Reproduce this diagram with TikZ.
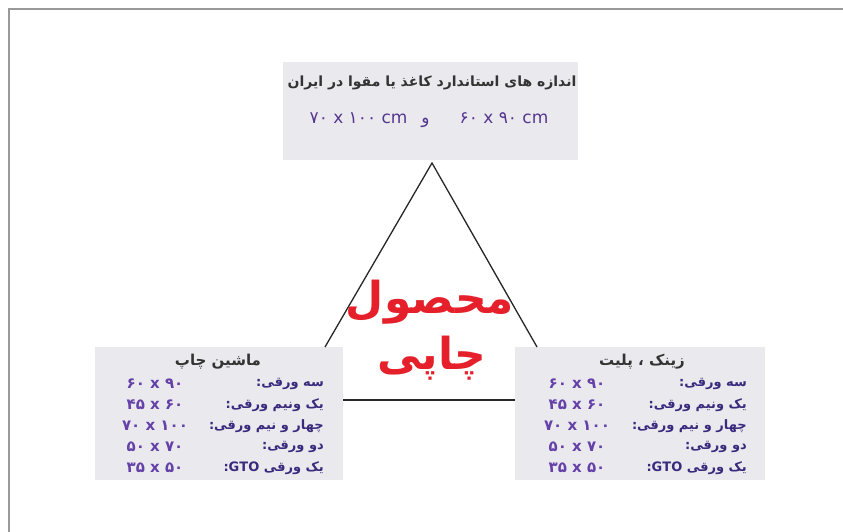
\documentclass[tikz,border=0pt]{standalone}
\usepackage{fontspec}
\setmainfont{DejaVu Sans}
\newfontfamily\arabicfont[Script=Arabic]{DejaVu Sans}
\TeXXeTstate=1
\definecolor{framegray}{HTML}{9A9A9A}
\definecolor{boxgray}{HTML}{EAEAEE}
\definecolor{labelpurple}{HTML}{3A2A7E}
\definecolor{numpurple}{HTML}{6440A8}
\definecolor{titlered}{HTML}{E5202A}
\tikzset{
	sizebox/.style={fill=boxgray,draw=none,inner sep=0pt,anchor=north west},
	rowlabel/.style={anchor=east,inner sep=0pt,text=labelpurple,font=\arabicfont\bfseries\fontsize{13}{15}\selectfont},
	rownum/.style={anchor=center,inner sep=0pt,text=numpurple,font=\arabicfont\bfseries\fontsize{15}{17}\selectfont},
	boxtitle/.style={inner sep=0pt,text=black!80,font=\arabicfont\bfseries\fontsize{15}{17}\selectfont}
}
\begin{document}
\begin{tikzpicture}[x=1pt,y=-1pt]
	%% frame
	\useasboundingbox (0,0) rectangle (843,532);
	\draw[framegray,line width=2.5pt] (9,532) |- (843,9);
	%% boxes
	\node[sizebox,minimum width=295pt,minimum height=98pt] (standard) at (283,62) {};
	\node[sizebox,minimum width=248pt,minimum height=133pt] (machine) at (95,347) {};
	\node[sizebox,minimum width=250pt,minimum height=133pt] (plate) at (515,347) {};
	%% top box
	\node[boxtitle,font=\arabicfont\bfseries\fontsize{14}{16}\selectfont] (stdtitle) at (432,83) {\beginR اندازه های استاندارد کاغذ یا مقوا  در ایران\endR};
	\node[rownum,text=numpurple!85!black,font=\arabicfont\fontsize{17}{19}\selectfont] (stdsizes) at (429,120)
		{\beginR\beginL ۶۰ x ۹۰ cm\endL\hspace{30pt}و\hspace{14pt}\beginL ۷۰ x ۱۰۰ cm\endL\endR};
	%% triangle
	\coordinate (apex) at (432,163);
	\coordinate (tl) at (325,347);
	\coordinate (tr) at (537,347);
	\coordinate (bl) at (343,400);
	\coordinate (br) at (515,400);
	\draw[line width=1.3pt,black!85] (tl) -- (apex) -- (tr);
	\draw[line width=1.3pt,black!85] (bl) -- (br);
	%% centre
	\node[text=titlered,font=\arabicfont\bfseries\fontsize{44}{48}\selectfont] (product) at (430,302) {\beginR محصول\endR};
	\node[text=titlered,font=\arabicfont\bfseries\fontsize{44}{48}\selectfont] (print) at (432,358) {\beginR چاپی\endR};
	%% bottom boxes
	\node[boxtitle] (machinetitle) at (218,362) {\beginR ماشین  چاپ\endR};
	\node[boxtitle] (platetitle) at (642,362) {\beginR زینک ، پلیت\endR};
	\foreach \y/\lab/\sz in {384/سه ورقی:/۶۰ x ۹۰,
		405/یک ونیم ورقی:/۴۵ x ۶۰,
		426/چهار و نیم ورقی:/۷۰ x ۱۰۰,
		447/دو ورقی:/۵۰ x ۷۰,
		468/یک ورقی \beginL GTO\endL:/۳۵ x ۵۰}
	{
		\node[rowlabel] at (324,\y) {\beginR\lab\endR};
		\node[rownum] at (155,\y) {\beginR\beginL\sz\endL\endR};
		\node[rowlabel] at (747,\y) {\beginR\lab\endR};
		\node[rownum] at (577,\y) {\beginR\beginL\sz\endL\endR};
	}
\end{tikzpicture}
\end{document}
